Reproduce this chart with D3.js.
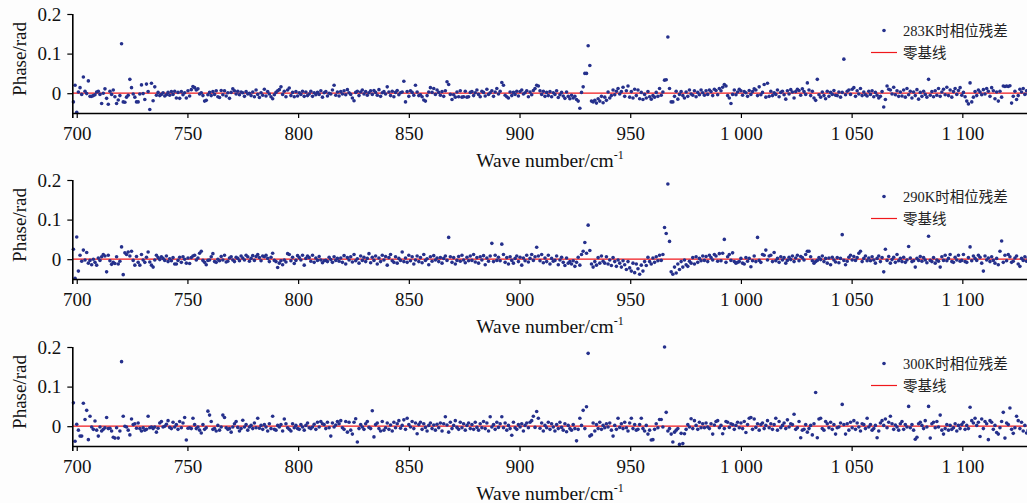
<!DOCTYPE html>
<html>
<head>
<meta charset="utf-8">
<script src="https://cdn.jsdelivr.net/npm/d3@7"></script>
<style>
  html, body { margin: 0; padding: 0; background: #fdfdfd; }
  svg { display: block; }
</style>
</head>
<body>
<svg id="chart" width="1027" height="503"></svg>
<script>
// Spectral sampling grid (cm^-1)
const WAVE_START = 698.5;
const WAVE_STEP = 0.75;

const X_TICKS = [700, 750, 800, 850, 900, 950, 1000, 1050, 1100];
const Y_TICKS = [0, 0.1, 0.2];

const SERIES_LABELS = ["283K时相位残差", "290K时相位残差", "300K时相位残差"];
const BASELINE_LABEL = "零基线";

// Phase residuals in mrad, one value per grid sample
const residual283 = [
  -22,20,-48,3,14,-3,41,5,-1,31,-8,-8,-6,-4,3,5,-3,-26,0,11,
  -13,-28,5,-3,8,-9,-26,-17,-6,125,-22,-23,-10,-5,35,14,-2,-10,-22,-22,
  -2,21,-1,-16,23,4,-41,25,-19,16,-5,2,-6,-3,1,-7,-4,2,-5,4,
  -3,5,-12,2,-13,4,-4,1,-12,6,-7,9,17,14,8,11,-2,1,-6,-20,
  -18,-4,2,-6,4,-3,6,-9,-11,7,-4,6,-7,1,-13,2,11,6,-2,5,
  -4,3,1,-8,4,-2,0,-6,3,-9,8,-3,-11,1,-5,10,-7,4,-2,-9,
  -14,-4,2,6,9,16,-3,5,-9,8,13,-6,2,-9,4,-7,1,-3,5,-8,
  3,-6,-2,5,-8,1,-4,2,-3,6,-10,1,4,-7,0,-2,8,20,-5,3,
  -7,4,-2,6,-4,9,1,-3,-12,-19,2,5,-6,3,8,-2,4,-5,1,6,
  -3,7,2,-5,9,-8,1,4,-2,16,3,-6,5,-9,2,7,-4,1,3,30,
  -22,4,-8,6,2,-5,20,3,-6,-4,-9,-17,-20,-6,3,14,2,12,-3,8,
  2,-5,4,-8,6,29,22,-3,-16,-4,-10,3,-9,6,-10,-9,5,-10,-9,2,
  4,-6,1,8,-3,-9,5,2,-7,10,-3,1,6,-8,3,12,-2,5,27,20,
  -5,-9,-12,3,-6,2,-3,5,-7,4,8,-2,1,6,-9,3,-4,7,12,20,
  18,6,-3,5,-8,2,-6,4,-9,1,-3,6,-11,-4,2,-7,-13,3,-8,-14,
  -5,-12,-8,-16,-20,-38,2,16,50,50,120,70,-20,-22,-18,-25,-14,-20,-8,-24,
  -10,-18,3,-12,-6,8,-4,5,12,-2,4,15,-8,6,18,-10,4,-12,10,-6,
  8,-14,2,-16,-3,-12,4,-9,-15,-6,-10,2,-8,12,-5,3,33,34,142,12,
  -22,-22,-8,5,-15,-3,4,-6,-12,3,-8,8,-2,-5,6,-9,2,-4,8,1,
  -5,6,-3,8,4,-6,10,7,-4,12,6,15,22,18,-6,-12,-26,-3,8,-4,
  3,10,6,-5,4,1,-8,7,-3,4,11,8,-6,16,-4,2,22,-10,25,-8,
  5,-6,1,-3,8,-9,2,5,-4,-15,6,-2,9,3,-12,4,10,7,-5,11,
  4,-3,26,8,-6,5,-12,-18,35,-4,-10,3,-6,-14,5,-8,2,-3,7,-5,
  -6,3,-10,2,86,-4,5,8,-3,10,14,-8,6,-2,12,-6,3,-4,-7,5,
  -3,6,-9,2,-5,-12,-8,4,-35,-16,18,10,8,-2,15,-4,6,-8,3,-7,
  8,-10,12,-4,5,-12,3,-6,9,-15,2,-8,5,-3,-10,35,-5,4,-9,6,
  -5,12,-8,3,10,-4,15,-6,8,-10,4,12,-3,7,14,-5,2,-9,-20,-27,
  26,-22,-10,4,-6,8,3,-4,9,-2,12,5,-8,14,6,-14,3,-20,5,-10,
  18,17,18,17,19,-25,-8,5,-16,-6,10,3,12,-3,6,-2
];

const residual290 = [
  25,-48,56,-30,10,-5,23,-2,17,-10,-3,-14,0,-8,-15,3,-3,6,12,8,
  -32,10,-4,-13,-8,-11,6,-12,-5,31,-39,16,12,18,8,20,-3,-15,7,-8,
  -15,12,-2,-8,5,18,-7,-15,-20,-2,10,4,-1,6,2,-3,8,-6,1,-4,
  4,-12,-12,-3,5,-8,6,0,-10,3,-11,4,8,10,-2,3,15,20,-3,-8,
  -14,-3,-2,6,14,-6,-8,0,-4,7,-2,10,-7,-5,3,6,-2,-6,5,2,
  -4,8,3,-2,10,6,-5,2,9,-3,7,12,4,-4,8,6,10,2,-6,5,
  15,-3,-6,-21,-10,-4,-14,-2,-7,14,12,-4,5,-11,-3,9,4,-2,10,-15,
  2,8,4,-5,10,-8,3,-3,7,-2,-9,-4,-3,-6,5,-1,-8,6,-3,2,
  -5,3,-8,9,-12,4,-2,6,-7,12,-4,1,-10,8,-3,5,-6,2,14,-9,
  5,-3,8,-12,3,-6,10,-2,7,-15,4,12,-4,-8,6,-10,2,-3,18,-6,
  3,-8,10,-4,6,-12,-2,8,-6,4,-9,12,-3,1,-14,6,-5,9,-2,3,
  -6,4,-10,2,8,-3,55,6,-8,4,-12,-3,7,-5,10,-2,-9,5,-4,8,
  -3,12,-7,4,-10,6,-2,9,-14,3,-5,8,40,-6,10,-3,5,-4,38,12,
  -8,4,-12,6,-3,-10,2,8,-6,5,-15,3,-4,10,-7,2,12,-3,6,30,
  8,-4,12,-9,3,-6,10,-12,2,-5,-3,8,-14,-2,5,-8,-16,3,-10,-6,
  -12,-4,-18,-8,5,-15,12,20,42,15,86,22,-12,-20,-6,-15,4,-10,8,-5,
  -10,6,-12,-2,-16,4,-6,-18,-2,-10,-20,-4,-14,-26,-6,-22,-30,-10,-34,-12,
  -24,-38,-15,-30,-6,-16,5,-6,-12,3,-8,6,-4,10,-3,12,80,65,190,45,
  -32,-38,-20,-35,-12,-26,-6,-20,-2,-14,-18,-5,-10,4,-12,6,-8,2,-4,8,
  -3,7,-6,10,4,-2,12,8,-5,14,-4,15,50,-8,6,12,-3,16,-6,-10,
  -8,-6,2,-10,-12,4,-5,2,-19,-4,8,-6,55,-3,-8,12,10,23,-2,8,
  10,-6,17,-4,2,-8,6,-2,4,-10,-3,5,-1,8,-6,3,10,-4,7,4,
  -2,12,20,20,6,-4,-10,-6,-3,4,-1,8,-6,2,-10,3,-14,5,-2,-7,
  4,-9,2,62,-3,-14,-5,5,10,-2,7,-3,4,15,20,-6,2,8,-4,3,
  -4,6,-2,-10,2,8,-6,4,-32,25,-3,7,-10,-1,5,-8,12,-4,2,-6,
  5,-8,-2,32,3,-6,-4,-20,2,-3,7,-5,4,-2,-9,58,-3,-6,4,-10,
  -2,-5,-20,6,-3,10,-4,2,12,-6,-8,5,-2,10,-5,-3,12,-6,-8,4,
  31,-4,8,2,-3,10,5,-10,-30,8,-2,3,-6,6,-3,-10,2,-14,20,46,
  -8,10,-4,12,6,-8,-5,3,8,-12,-18,2,-3,6,-5,4
];

const residual300 = [
  59,-38,5,-10,-25,-25,58,17,40,-34,25,-2,-8,13,-10,-25,-2,-12,-8,-4,
  22,-6,-5,-12,-28,-30,-4,-30,-12,163,25,0,-2,-10,-22,18,4,6,-5,8,
  -6,-12,-4,-10,-8,25,-4,-2,-6,-2,-15,-5,8,12,-2,0,5,14,-3,-6,
  10,-2,4,-8,12,-4,8,22,-35,-5,-4,-6,20,4,-6,-2,-10,-17,4,-8,
  -4,38,28,12,-8,-6,-12,2,-10,-2,28,22,-4,-8,-6,-15,-2,6,12,-3,
  -12,-6,15,-2,4,-10,-2,2,-6,8,-4,20,-5,2,-8,4,-2,-12,6,-6,
  25,-8,-10,2,-2,4,-12,18,6,-4,-8,-12,6,-4,2,-6,-8,4,-2,-10,
  2,8,-4,-6,-2,5,-8,10,-2,12,6,4,-6,10,-4,-25,8,-2,3,12,
  6,14,-4,-8,12,-15,10,-10,-20,10,19,-40,-6,4,-2,-8,6,12,-3,-6,
  39,-27,4,8,-6,-12,12,-10,-4,8,-8,3,-12,10,-4,6,14,-5,2,16,
  -8,20,4,-2,12,-6,8,-19,4,10,-8,6,-3,-12,2,8,-6,3,-10,5,
  -4,8,-12,6,24,3,-15,10,-6,2,14,-3,-8,10,-4,6,-10,2,8,-6,
  4,-8,10,-3,-10,6,-4,12,-6,8,-12,24,-2,4,-8,10,-3,6,24,-4,
  8,-10,2,-6,-23,10,-4,-8,4,-2,6,-12,2,8,-4,10,14,25,-3,37,
  20,-5,8,-12,2,-4,10,-8,6,-2,-12,4,-6,10,-3,-10,6,-14,2,-6,
  -10,4,-6,-37,-8,20,2,40,-6,49,184,-25,-22,8,-12,4,-6,10,-8,2,
  -4,6,-2,8,-10,-25,2,-8,20,-3,6,-6,10,-4,-12,8,20,-6,4,-10,
  -8,4,20,-6,-12,2,-20,-10,-35,-34,-8,6,-4,17,17,-2,200,35,-12,-6,
  -20,-40,-15,-10,-6,-46,-18,-44,-19,-8,4,-2,19,-6,14,2,-8,10,-4,6,
  -4,8,-2,-6,6,-20,3,12,14,-4,2,-19,-6,12,10,-3,6,4,-8,2,
  10,-4,8,-6,12,-16,4,20,22,-8,18,-3,6,-10,4,8,-6,2,14,-4,
  6,-8,4,20,-10,12,-4,2,8,-6,16,-2,6,4,30,-8,-4,12,-29,-10,
  -8,4,-15,-6,2,-22,6,85,-29,18,20,-6,-10,12,6,-4,10,-8,4,-20,
  -4,-2,8,55,4,-20,6,-10,10,-4,14,-8,8,-2,-12,6,4,-6,20,-2,
  4,-10,-6,2,-29,-12,8,14,2,18,-4,10,25,6,-8,3,-2,-10,6,12,
  -8,4,-2,50,-4,4,-10,-33,-28,6,10,2,-6,14,-2,50,-30,6,10,-4,
  12,-2,28,-10,-20,-6,4,-10,2,-8,-4,6,-12,2,-6,4,10,-8,2,-6,
  48,14,8,20,2,10,-26,18,-6,12,6,-34,14,10,-8,2,-16,-20,-4,12,
  35,-30,8,4,46,-8,-18,-4,25,14,-6,10,-12,2,-17,-10
];

const SERIES = [residual283, residual290, residual300];

// ---- layout ----
const W = 1027;
const PLOT_LEFT = 72.3;
const PANEL_TOPS = [14, 180, 347];   // pixel row of the 0.2 gridline
const PANEL_H = 99;                  // 0.2 down to -0.05
const SERIF = "'Liberation Serif', 'Times New Roman', serif";
const LEGEND_FONT = "'Liberation Serif', 'Noto Sans CJK SC', serif";
const DOT_COLOR = "#25308c";
const ZERO_COLOR = "#f0181c";

const svg = d3.select("#chart");
svg.append("rect").attr("width", W).attr("height", 503).attr("fill", "#fdfdfd");

const x = d3.scaleLinear().domain([698, 1130]).range([PLOT_LEFT, PLOT_LEFT + 432 * 2.214]);

const fmtX = d => String(d).replace(/\B(?=(\d{3})+(?!\d))/g, " ");
const fmtY = d => d === 0 ? "0" : d.toFixed(1);

SERIES.forEach((vals, p) => {
  const top = PANEL_TOPS[p];
  const y = d3.scaleLinear().domain([-0.05, 0.2]).range([top + PANEL_H, top]);
  const g = svg.append("g");

  const pts = vals.map((v, i) => ({ w: WAVE_START + i * WAVE_STEP, r: v / 1000 }));

  // zero baseline
  g.append("line")
    .attr("x1", x(698)).attr("x2", W)
    .attr("y1", y(0)).attr("y2", y(0))
    .attr("stroke", ZERO_COLOR).attr("stroke-width", 1.2);

  // residual points
  g.append("g").selectAll("circle").data(pts).join("circle")
    .attr("cx", d => x(d.w))
    .attr("cy", d => y(d.r))
    .attr("r", 1.8)
    .attr("fill", DOT_COLOR);

  // x axis
  const xAxis = g.append("g")
    .attr("transform", `translate(0,${top + PANEL_H})`)
    .call(d3.axisBottom(x).tickValues(X_TICKS).tickFormat(fmtX).tickSizeOuter(0).tickSize(5).tickPadding(9));
  xAxis.select(".domain").attr("stroke", "#000").attr("stroke-width", 1.6);
  xAxis.selectAll(".tick line").attr("stroke", "#000").attr("stroke-width", 1.2);
  xAxis.selectAll("text").attr("font-family", SERIF).attr("font-size", 19).attr("fill", "#111");

  // y axis
  const yAxis = g.append("g")
    .attr("transform", `translate(${PLOT_LEFT},0)`)
    .call(d3.axisLeft(y).tickValues(Y_TICKS).tickFormat(fmtY).tickSizeOuter(0).tickSize(5).tickPadding(6));
  yAxis.select(".domain").attr("stroke", "#000").attr("stroke-width", 1.6)
    .attr("d", `M0.5,${top}V${top + PANEL_H}`);
  yAxis.selectAll(".tick line").attr("stroke", "#000").attr("stroke-width", 1.2);
  yAxis.selectAll("text").attr("font-family", SERIF).attr("font-size", 19).attr("fill", "#111");

  // axis titles
  const xt = g.append("text")
    .attr("x", 550).attr("y", top + 153)
    .attr("text-anchor", "middle")
    .attr("font-family", SERIF).attr("font-size", 19.5).attr("fill", "#111");
  xt.append("tspan").text("Wave number/cm");
  xt.append("tspan").attr("dy", -8).attr("font-size", 12).text("-1");

  g.append("text")
    .attr("transform", `translate(26,${top + 45}) rotate(-90)`)
    .attr("text-anchor", "middle")
    .attr("font-family", SERIF).attr("font-size", 19).attr("fill", "#111")
    .text("Phase/rad");

  // legend
  const lg = g.append("g").attr("transform", `translate(0,${top})`);
  lg.append("circle").attr("cx", 884).attr("cy", 16.5).attr("r", 1.8).attr("fill", DOT_COLOR);
  lg.append("text").attr("x", 903).attr("y", 21.5)
    .attr("font-family", LEGEND_FONT).attr("font-size", 14.5).attr("fill", "#222")
    .text(SERIES_LABELS[p]);
  lg.append("line").attr("x1", 871).attr("x2", 897).attr("y1", 38.5).attr("y2", 38.5)
    .attr("stroke", ZERO_COLOR).attr("stroke-width", 1.2);
  lg.append("text").attr("x", 903).attr("y", 43.5)
    .attr("font-family", LEGEND_FONT).attr("font-size", 14.5).attr("fill", "#222")
    .text(BASELINE_LABEL);
});
</script>
</body>
</html>
